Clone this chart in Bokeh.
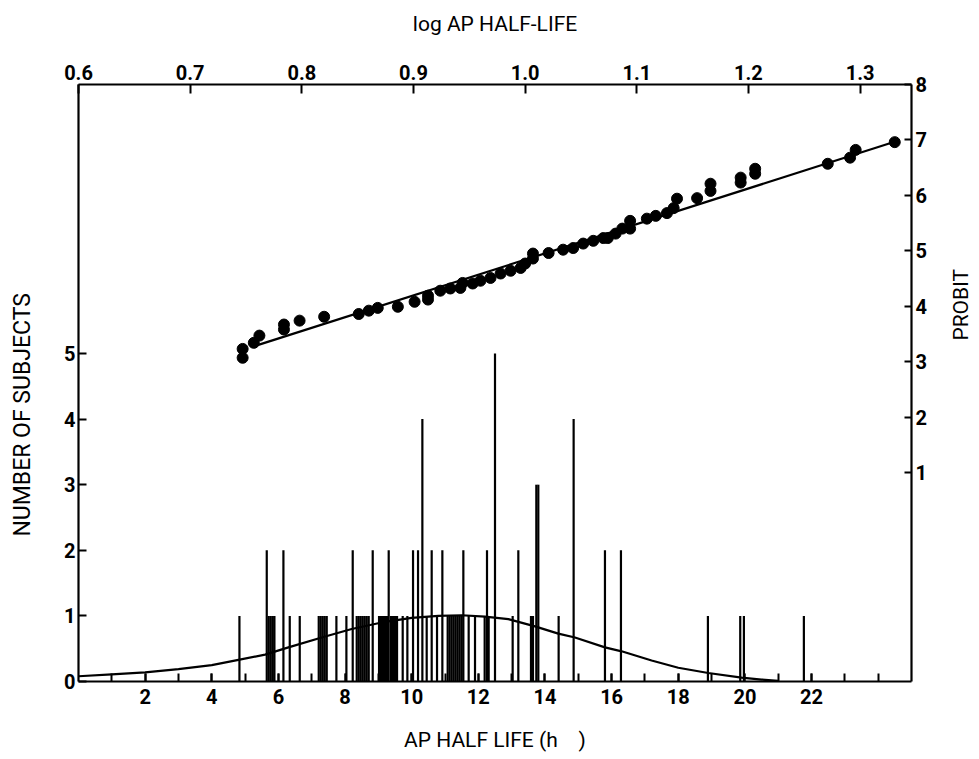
import math
from bokeh.plotting import figure
from bokeh.models import Range1d, LinearAxis, FixedTicker, NumeralTickFormatter
from bokeh.layouts import row
from bokeh.core.properties import value
from bokeh.embed import file_html
from bokeh.resources import INLINE

# ---------------- data ----------------
# Histogram of individual half-lives (hours) and number of subjects
spike_hours = [4.83, 5.65, 5.71, 5.77, 5.83, 5.88, 6.15, 6.34, 6.64,
               7.21, 7.27, 7.33, 7.39, 7.45, 7.74, 8.04, 8.23,
               8.35, 8.41, 8.47, 8.53, 8.59, 8.65, 8.71, 8.83,
               9.02, 9.08, 9.14, 9.20, 9.26, 9.31, 9.38, 9.44, 9.50, 9.56,
               9.73, 9.87, 10.04, 10.19, 10.32, 10.45, 10.60, 10.76, 10.92,
               11.08, 11.14, 11.20, 11.26, 11.32, 11.38, 11.44, 11.50, 11.55,
               11.71, 11.90, 12.19, 12.26, 12.31, 12.50, 13.03, 13.20,
               13.58, 13.64, 13.74, 13.80, 14.41, 14.86, 15.80, 16.28,
               18.89, 19.86, 19.97, 21.77]
spike_counts = [1, 2, 1, 1, 1, 1, 2, 1, 1,
                1, 1, 1, 1, 1, 1, 1, 2,
                1, 1, 1, 1, 1, 1, 1, 2,
                1, 1, 1, 1, 1, 2, 1, 1, 1, 1,
                1, 1, 2, 2, 4, 1, 2, 1, 2,
                1, 1, 1, 1, 1, 1, 1, 1, 2,
                1, 1, 1, 2, 1, 5, 1, 2,
                1, 1, 3, 3, 1, 4, 2, 2,
                1, 1, 1, 1]

# Fitted distribution curve (hours, number of subjects), read point by point
curve_hours = [0, 1, 2, 3, 4, 4.8, 5.6, 6.3, 7.3, 8.2, 9.1, 10.0, 10.8, 11.5,
               12.2, 12.9, 13.7, 14.4, 14.9, 15.8, 16.3, 17.2, 18.0, 18.9,
               19.9, 20.5, 21.0]
curve_counts = [0.08, 0.11, 0.14, 0.19, 0.25, 0.33, 0.41, 0.52, 0.67, 0.80,
                0.90, 0.97, 1.00, 1.01, 0.99, 0.95, 0.84, 0.73, 0.67, 0.52,
                0.46, 0.32, 0.21, 0.13, 0.06, 0.03, 0.01]

# Probit plot: log half-life vs probit
log_hl = [0.747, 0.747, 0.757, 0.762, 0.784, 0.784, 0.798, 0.820, 0.851, 0.860,
          0.868, 0.886, 0.901, 0.913, 0.913, 0.924, 0.933, 0.942, 0.944, 0.953,
          0.960, 0.969, 0.978, 0.987, 0.996, 1.000, 1.007, 1.007, 1.021, 1.034,
          1.043, 1.052, 1.061, 1.070, 1.074, 1.081, 1.087, 1.094, 1.094, 1.109,
          1.117, 1.127, 1.133, 1.136, 1.154, 1.166, 1.166, 1.193, 1.193, 1.206,
          1.206, 1.271, 1.291, 1.296, 1.331]
probit = [3.23, 3.07, 3.34, 3.47, 3.67, 3.58, 3.74, 3.81, 3.86, 3.92,
          3.97, 3.99, 4.08, 4.12, 4.19, 4.28, 4.32, 4.33, 4.42, 4.41,
          4.46, 4.51, 4.59, 4.64, 4.69, 4.77, 4.86, 4.95, 4.96, 5.02,
          5.05, 5.13, 5.18, 5.23, 5.23, 5.31, 5.40, 5.54, 5.40, 5.58,
          5.63, 5.68, 5.77, 5.94, 5.95, 6.21, 6.08, 6.32, 6.23, 6.48,
          6.39, 6.57, 6.68, 6.82, 6.96]

# Fitted probit line end points
fit_log = [0.756, 1.333]
fit_probit = [3.27, 6.98]

# Tick definitions
hour_ticks = [2, 4, 6, 8, 10, 12, 14, 16, 18, 20, 22]
hour_minor = list(range(1, 25))
count_ticks = [0, 1, 2, 3, 4, 5]
log_ticks = [0.6, 0.7, 0.8, 0.9, 1.0, 1.1, 1.2, 1.3]
probit_ticks = [1, 2, 3, 4, 5, 6, 7, 8]

TICK_FONT = "Roboto"
TITLE_FONT = "Roboto"
TITLE_SIZE = "21px"
H = 759

# ---------------- main figure ----------------
p = figure(width=886, height=H, output_backend="svg", toolbar_location=None,
           x_range=Range1d(0, 25), y_range=Range1d(0, 9.1),
           x_axis_type=None, y_axis_type=None,
           min_border_left=28, min_border_right=25,
           min_border_top=84, min_border_bottom=78)
p.extra_x_ranges = {"log": Range1d(0.6, 1.346)}
p.extra_y_ranges = {"probit": Range1d(-2.77, 8.0)}
p.outline_line_color = None
p.background_fill_color = "white"
p.border_fill_color = "white"


def style(ax, tick_in, standoff):
    ax.axis_line_color = "black"
    ax.axis_line_width = 2.2
    ax.major_tick_line_color = "black"
    ax.major_tick_line_width = 2
    ax.major_tick_in = tick_in
    ax.major_tick_out = 0
    ax.minor_tick_line_color = "black"
    ax.minor_tick_line_width = 2
    ax.minor_tick_in = tick_in
    ax.minor_tick_out = 0
    ax.major_label_text_font = TICK_FONT
    ax.major_label_text_font_style = "bold"
    ax.major_label_text_font_size = "20px"
    ax.major_label_text_color = "black"
    ax.major_label_standoff = standoff
    ax.axis_label_text_font = TITLE_FONT
    ax.axis_label_text_font_style = "normal"
    ax.axis_label_text_font_size = TITLE_SIZE
    ax.axis_label_text_color = "black"


bottom = LinearAxis(ticker=FixedTicker(ticks=hour_ticks, minor_ticks=hour_minor),
                    axis_label="AP HALF LIFE (h\u00a0\u00a0\u00a0\u00a0)")
style(bottom, 8, 7)
bottom.axis_label_standoff = 21
p.add_layout(bottom, "below")

left = LinearAxis(ticker=FixedTicker(ticks=count_ticks, minor_ticks=[]))
style(left, 8, 3)
p.add_layout(left, "left")

top = LinearAxis(x_range_name="log",
                 ticker=FixedTicker(ticks=log_ticks, minor_ticks=[]),
                 formatter=NumeralTickFormatter(format="0.0"),
                 axis_label="log AP HALF-LIFE")
style(top, 9, 5)
top.axis_label_standoff = 26
p.add_layout(top, "above")

right = LinearAxis(y_range_name="probit",
                   ticker=FixedTicker(ticks=probit_ticks, minor_ticks=[]))
style(right, 7, 4)
p.add_layout(right, "right")

# histogram spikes
p.segment(x0=spike_hours, y0=[0] * len(spike_hours), x1=spike_hours, y1=spike_counts,
          line_color="black", line_width=2.2, line_cap="butt")

# fitted distribution curve
p.line(curve_hours, curve_counts, line_color="black", line_width=2.2)

# probit points and line
p.line(fit_log, fit_probit, x_range_name="log", y_range_name="probit",
       line_color="black", line_width=2.2)
p.scatter(log_hl, probit, x_range_name="log", y_range_name="probit",
          size=11, fill_color="black", line_color="black")


# ---------------- side strips holding the vertical titles ----------------
def strip(width, title, x_center, y_center_from_top, size):
    s = figure(width=width, height=H, output_backend="svg", toolbar_location=None,
               x_range=Range1d(0, width), y_range=Range1d(0, H),
               x_axis_type=None, y_axis_type=None, min_border=0)
    s.outline_line_color = None
    s.background_fill_color = "white"
    s.border_fill_color = "white"
    s.text(x=[x_center], y=[H - y_center_from_top], text=[title], angle=math.pi / 2,
           text_align="center", text_baseline="middle",
           text_font=value(TITLE_FONT), text_font_size=size, text_color="black")
    return s


left_strip = strip(50, "NUMBER OF SUBJECTS", 22, 420, "23px")
right_strip = strip(43, "PROBIT", 24, 280, TITLE_SIZE)

layout = row(left_strip, p, right_strip)

open("out.html", "w").write(file_html(layout, INLINE))
